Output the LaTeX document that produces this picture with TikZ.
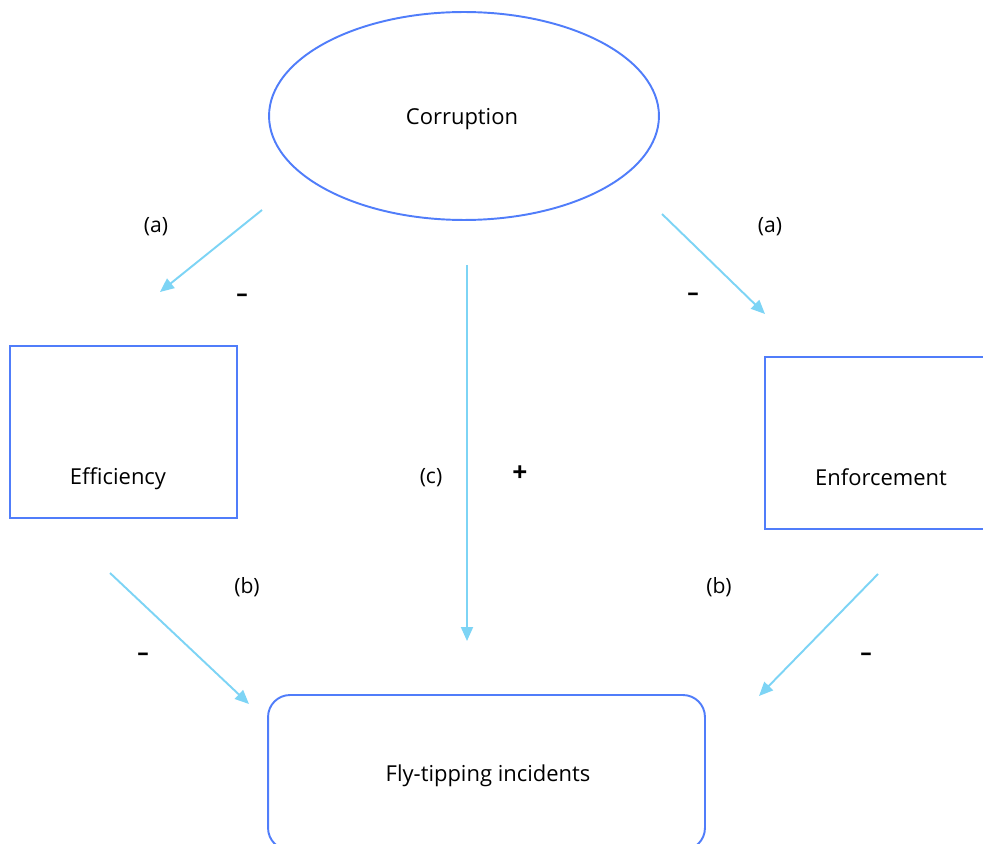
\documentclass[tikz,border=0pt]{standalone}
\usepackage{fontspec}
\setmainfont{Open Sans}
\usetikzlibrary{shapes.geometric,arrows.meta}
\definecolor{boxblue}{RGB}{80,125,250}
\definecolor{arrowblue}{RGB}{125,212,245}
\tikzset{
  shape outline/.style={draw=boxblue, line width=1.1pt},
  oval/.style={shape outline, ellipse, minimum width=7.8cm, minimum height=4.16cm, inner sep=0pt},
  squarebox/.style={shape outline, rectangle, minimum width=4.54cm, minimum height=3.44cm, inner sep=0pt},
  roundbox/.style={shape outline, rectangle, rounded corners=0.44cm, minimum width=8.74cm, minimum height=3.1cm, inner sep=0pt},
  link/.style={draw=arrowblue, line width=1.1pt, -{Triangle[length=0.28cm, width=0.24cm]}},
  lbl/.style={font=\fontsize{12}{14}\selectfont, inner sep=0pt},
  sign/.style={font=\fontsize{15}{17}\selectfont\bfseries, inner sep=0pt},
  minus/.style={font=\fontsize{13}{15}\selectfont\bfseries, inner sep=0pt},
}
\begin{document}
\begin{tikzpicture}[x=0.02cm, y=-0.02cm, font=\fontsize{12.5}{15}\selectfont]
\useasboundingbox (0,0) rectangle (983,844);
\clip (0,0) rectangle (983,844);
% nodes
\node[oval] (corr) at (464,116) {};
\node[lbl, font=\fontsize{12.5}{15}\selectfont] (corrtext) at (462,119) {Corruption};
\node[squarebox, label={[lbl, font=\fontsize{12.5}{15}\selectfont, xshift=-0.11cm, yshift=-0.94cm]center:Efficiency}] (eff) at (123.5,432) {};
\node[squarebox, label={[lbl, font=\fontsize{12.5}{15}\selectfont, xshift=0.05cm, yshift=-0.68cm]center:Enforcement}] (enf) at (878.5,443) {};
\node[roundbox] (fly) at (486.5,772.5) {};
\node[lbl, font=\fontsize{12.5}{15}\selectfont] (flytext) at (488,776) {Fly-tipping incidents};
% connector end points
\coordinate (a1s) at (262,210);
\coordinate (a1e) at (160,292);
\coordinate (a2s) at (662,214);
\coordinate (a2e) at (765,314);
\coordinate (cs) at (467,265);
\coordinate (ce) at (467,641);
\coordinate (b1s) at (110,573);
\coordinate (b1e) at (249,704);
\coordinate (b2s) at (878,574);
\coordinate (b2e) at (759,696);
% connectors
\draw[link] (a1s) -- (a1e);
\draw[link] (a2s) -- (a2e);
\draw[link] (cs) -- (ce);
\draw[link] (b1s) -- (b1e);
\draw[link] (b2s) -- (b2e);
% labels
\node[lbl] (la1) at (156,227) {(a)};
\node[minus] (ma1) at (242,298) {–};
\node[lbl] (la2) at (770,227) {(a)};
\node[minus] (ma2) at (693,297) {–};
\node[lbl] (lc) at (431,478) {(c)};
\node[sign] (pc) at (520,474) {+};
\node[lbl] (lb1) at (247,587) {(b)};
\node[minus] (mb1) at (143,657) {–};
\node[lbl] (lb2) at (719,587) {(b)};
\node[minus] (mb2) at (866,657) {–};
\end{tikzpicture}
\end{document}
